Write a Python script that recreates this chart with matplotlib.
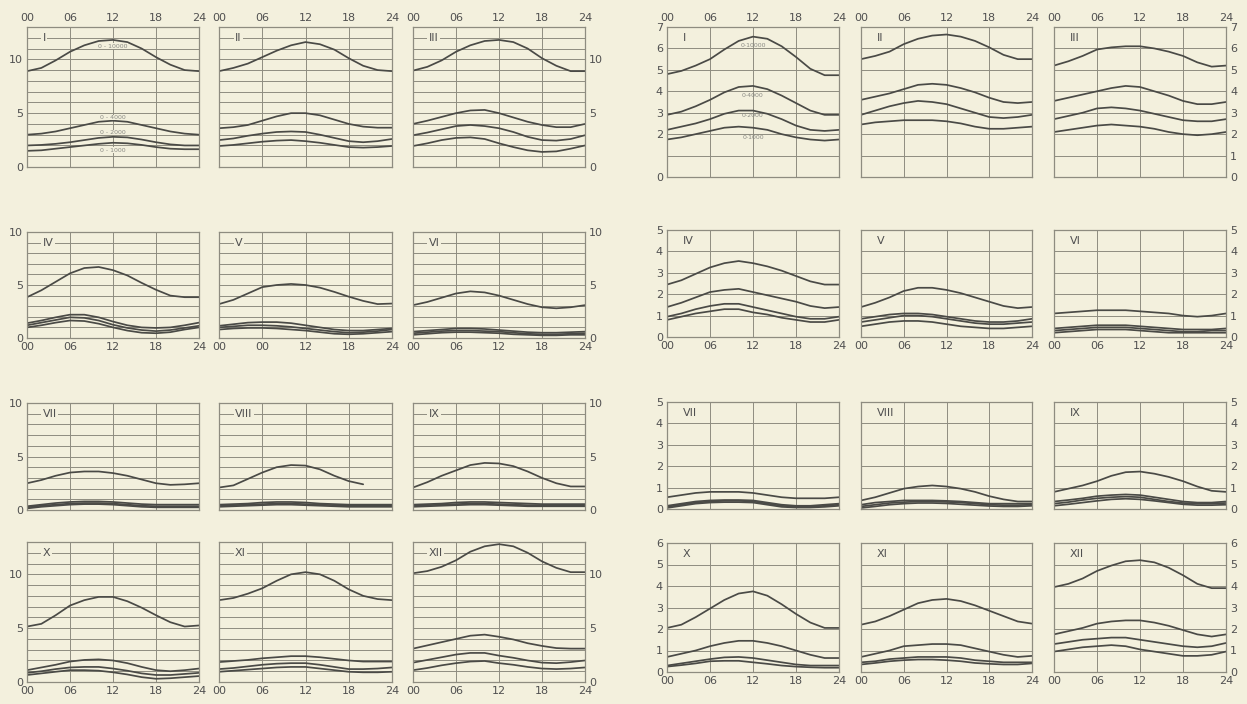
import matplotlib
matplotlib.use("Agg")
import matplotlib.pyplot as plt
import numpy as np

# ---------------- data ----------------
hours = [0, 2, 4, 6, 8, 10, 12, 14, 16, 18, 20, 22, 24]
hour_ticks = [0, 6, 12, 18, 24]
hour_labels = ["00", "06", "12", "18", "24"]
hour_labels_V = ["00", "00", "12", "18", "24"]   # as printed in panel V (left)
months = ["I", "II", "III", "IV", "V", "VI", "VII", "VIII", "IX", "X", "XI", "XII"]
layer_names = ["0 - 10000", "0 - 4000", "0 - 2000", "0 - 1000"]
nan = float("nan")

# Left group (series: 0-10000, 0-4000, 0-2000, 0-1000)
L_I = [[8.9, 9.2, 9.9, 10.7, 11.3, 11.7, 11.8, 11.6, 11.0, 10.2, 9.5, 9.0, 8.9],
       [3.0, 3.1, 3.3, 3.6, 3.9, 4.2, 4.3, 4.2, 3.9, 3.6, 3.3, 3.1, 3.0],
       [2.0, 2.05, 2.15, 2.3, 2.5, 2.7, 2.8, 2.75, 2.55, 2.3, 2.1, 2.0, 2.0],
       [1.5, 1.55, 1.7, 1.85, 2.0, 2.15, 2.25, 2.2, 2.05, 1.85, 1.7, 1.65, 1.65]]
L_II = [[8.9, 9.2, 9.6, 10.2, 10.8, 11.3, 11.6, 11.4, 10.9, 10.1, 9.4, 9.0, 8.9],
        [3.6, 3.7, 3.9, 4.3, 4.7, 5.0, 5.0, 4.8, 4.4, 4.0, 3.75, 3.65, 3.65],
        [2.5, 2.65, 2.9, 3.1, 3.25, 3.3, 3.25, 3.0, 2.7, 2.4, 2.3, 2.4, 2.6],
        [1.95, 2.05, 2.2, 2.35, 2.45, 2.5, 2.4, 2.25, 2.05, 1.85, 1.8, 1.85, 1.95]]
L_III = [[8.95, 9.3, 9.9, 10.7, 11.3, 11.7, 11.8, 11.6, 11.0, 10.1, 9.4, 8.9, 8.9],
         [4.0, 4.3, 4.65, 5.0, 5.25, 5.3, 5.0, 4.6, 4.2, 3.9, 3.7, 3.7, 4.0],
         [2.95, 3.2, 3.5, 3.8, 3.9, 3.8, 3.6, 3.25, 2.8, 2.5, 2.45, 2.6, 2.95],
         [1.95, 2.2, 2.5, 2.7, 2.75, 2.6, 2.2, 1.85, 1.55, 1.4, 1.45, 1.7, 2.0]]
L_IV = [[3.85, 4.5, 5.3, 6.1, 6.6, 6.7, 6.4, 5.9, 5.2, 4.55, 4.0, 3.85, 3.85],
        [1.4, 1.65, 1.95, 2.2, 2.2, 1.95, 1.55, 1.2, 1.0, 0.95, 1.0, 1.2, 1.45],
        [1.2, 1.45, 1.7, 1.95, 1.9, 1.65, 1.25, 0.95, 0.75, 0.65, 0.75, 0.95, 1.15],
        [1.0, 1.2, 1.45, 1.65, 1.6, 1.35, 1.0, 0.7, 0.5, 0.45, 0.55, 0.8, 1.0]]
L_V = [[3.2, 3.6, 4.2, 4.8, 5.0, 5.1, 5.0, 4.75, 4.35, 3.9, 3.5, 3.2, 3.25],
       [1.15, 1.3, 1.45, 1.5, 1.5, 1.4, 1.2, 1.0, 0.8, 0.7, 0.7, 0.8, 0.9],
       [1.0, 1.1, 1.2, 1.2, 1.15, 1.05, 0.9, 0.75, 0.6, 0.5, 0.55, 0.65, 0.8],
       [0.8, 0.9, 0.95, 0.95, 0.9, 0.8, 0.7, 0.55, 0.4, 0.35, 0.4, 0.5, 0.6]]
L_VI = [[3.1, 3.4, 3.8, 4.2, 4.4, 4.3, 4.0, 3.6, 3.2, 2.9, 2.8, 2.9, 3.1],
        [0.6, 0.7, 0.8, 0.9, 0.9, 0.85, 0.75, 0.65, 0.55, 0.5, 0.5, 0.55, 0.6],
        [0.45, 0.55, 0.65, 0.7, 0.7, 0.65, 0.6, 0.5, 0.4, 0.35, 0.35, 0.4, 0.45],
        [0.3, 0.4, 0.5, 0.55, 0.55, 0.5, 0.45, 0.35, 0.3, 0.25, 0.25, 0.3, 0.3]]
L_VII = [[2.5, 2.8, 3.2, 3.5, 3.6, 3.6, 3.45, 3.2, 2.85, 2.5, 2.35, 2.4, 2.5],
         [0.35, 0.5, 0.65, 0.75, 0.8, 0.8, 0.75, 0.65, 0.55, 0.5, 0.5, 0.5, 0.5],
         [0.25, 0.4, 0.5, 0.6, 0.65, 0.65, 0.6, 0.5, 0.4, 0.35, 0.35, 0.35, 0.35],
         [0.15, 0.3, 0.4, 0.5, 0.55, 0.55, 0.5, 0.4, 0.3, 0.25, 0.25, 0.25, 0.25]]
L_VIII = [[2.1, 2.3, 2.9, 3.5, 4.0, 4.2, 4.15, 3.8, 3.2, 2.7, 2.4, nan, nan],
          [0.5, 0.55, 0.6, 0.7, 0.75, 0.75, 0.7, 0.6, 0.55, 0.5, 0.5, 0.5, 0.5],
          [0.4, 0.45, 0.5, 0.55, 0.6, 0.6, 0.55, 0.5, 0.45, 0.4, 0.4, 0.4, 0.4],
          [0.3, 0.35, 0.4, 0.45, 0.5, 0.5, 0.45, 0.4, 0.35, 0.3, 0.3, 0.3, 0.3]]
L_IX = [[2.1, 2.6, 3.2, 3.7, 4.2, 4.4, 4.35, 4.1, 3.6, 3.0, 2.5, 2.2, 2.2],
        [0.5, 0.55, 0.6, 0.7, 0.75, 0.75, 0.7, 0.65, 0.6, 0.55, 0.55, 0.55, 0.55],
        [0.4, 0.45, 0.5, 0.55, 0.6, 0.6, 0.55, 0.5, 0.45, 0.45, 0.45, 0.45, 0.45],
        [0.3, 0.35, 0.4, 0.45, 0.5, 0.5, 0.45, 0.4, 0.35, 0.35, 0.35, 0.35, 0.35]]
L_X = [[5.15, 5.4, 6.2, 7.1, 7.6, 7.9, 7.9, 7.5, 6.9, 6.2, 5.55, 5.15, 5.25],
       [1.1, 1.35, 1.6, 1.9, 2.05, 2.1, 2.0, 1.75, 1.4, 1.1, 1.0, 1.1, 1.25],
       [0.85, 1.0, 1.2, 1.35, 1.4, 1.4, 1.25, 1.05, 0.8, 0.65, 0.65, 0.75, 0.85],
       [0.65, 0.8, 0.95, 1.1, 1.1, 1.05, 0.9, 0.7, 0.45, 0.3, 0.35, 0.45, 0.55]]
L_XI = [[7.6, 7.8, 8.2, 8.7, 9.4, 10.0, 10.2, 10.0, 9.4, 8.6, 8.0, 7.7, 7.6],
        [1.85, 1.95, 2.05, 2.2, 2.3, 2.4, 2.4, 2.3, 2.15, 2.0, 1.9, 1.9, 1.9],
        [1.2, 1.3, 1.45, 1.6, 1.7, 1.75, 1.75, 1.6, 1.4, 1.2, 1.2, 1.25, 1.35],
        [0.95, 1.05, 1.15, 1.25, 1.35, 1.4, 1.4, 1.25, 1.1, 0.95, 0.9, 0.9, 0.95]]
L_XII = [[10.1, 10.3, 10.7, 11.3, 12.1, 12.6, 12.8, 12.6, 12.0, 11.2, 10.6, 10.2, 10.2],
         [3.1, 3.4, 3.7, 4.0, 4.3, 4.4, 4.2, 3.95, 3.6, 3.35, 3.15, 3.1, 3.1],
         [1.8, 2.05, 2.3, 2.55, 2.7, 2.7, 2.45, 2.25, 2.0, 1.8, 1.75, 1.85, 2.0],
         [1.1, 1.3, 1.55, 1.75, 1.9, 1.95, 1.75, 1.6, 1.4, 1.25, 1.2, 1.25, 1.35]]

# Right group
R_I = [[4.8, 4.95, 5.2, 5.5, 5.95, 6.35, 6.55, 6.45, 6.1, 5.6, 5.05, 4.75, 4.75],
       [2.9, 3.05, 3.3, 3.6, 3.95, 4.2, 4.25, 4.1, 3.8, 3.45, 3.1, 2.9, 2.9],
       [2.2, 2.35, 2.5, 2.7, 2.95, 3.1, 3.1, 2.95, 2.7, 2.4, 2.2, 2.15, 2.2],
       [1.75, 1.85, 2.0, 2.15, 2.3, 2.35, 2.3, 2.2, 2.0, 1.85, 1.75, 1.7, 1.75]]
R_II = [[5.5, 5.65, 5.85, 6.2, 6.45, 6.6, 6.65, 6.55, 6.35, 6.05, 5.7, 5.5, 5.5],
        [3.6, 3.75, 3.9, 4.1, 4.3, 4.35, 4.3, 4.15, 3.95, 3.7, 3.5, 3.45, 3.5],
        [2.9, 3.1, 3.3, 3.45, 3.55, 3.5, 3.4, 3.2, 3.0, 2.8, 2.75, 2.8, 2.9],
        [2.45, 2.55, 2.6, 2.65, 2.65, 2.65, 2.6, 2.5, 2.35, 2.25, 2.25, 2.3, 2.35]]
R_III = [[5.2, 5.4, 5.65, 5.95, 6.05, 6.1, 6.1, 6.0, 5.85, 5.65, 5.35, 5.15, 5.2],
         [3.55, 3.7, 3.85, 4.0, 4.15, 4.25, 4.2, 4.0, 3.8, 3.55, 3.4, 3.4, 3.5],
         [2.7, 2.85, 3.0, 3.2, 3.25, 3.2, 3.1, 2.95, 2.8, 2.65, 2.6, 2.6, 2.7],
         [2.1, 2.2, 2.3, 2.4, 2.45, 2.4, 2.35, 2.25, 2.1, 2.0, 1.95, 2.0, 2.1]]
R_IV = [[2.45, 2.65, 2.95, 3.25, 3.45, 3.55, 3.45, 3.3, 3.1, 2.85, 2.6, 2.45, 2.45],
        [1.4, 1.6, 1.85, 2.1, 2.2, 2.25, 2.1, 1.95, 1.8, 1.65, 1.45, 1.35, 1.4],
        [0.95, 1.1, 1.3, 1.45, 1.55, 1.55, 1.4, 1.25, 1.1, 0.95, 0.85, 0.85, 0.95],
        [0.8, 0.95, 1.1, 1.2, 1.3, 1.3, 1.15, 1.05, 0.9, 0.8, 0.7, 0.7, 0.8]]
R_V = [[1.4, 1.6, 1.85, 2.15, 2.3, 2.3, 2.2, 2.05, 1.85, 1.65, 1.45, 1.35, 1.4],
       [0.85, 0.95, 1.05, 1.1, 1.1, 1.05, 0.95, 0.85, 0.75, 0.7, 0.7, 0.75, 0.85],
       [0.7, 0.8, 0.9, 1.0, 1.0, 0.95, 0.85, 0.75, 0.65, 0.6, 0.6, 0.65, 0.7],
       [0.5, 0.6, 0.7, 0.75, 0.75, 0.7, 0.6, 0.5, 0.45, 0.4, 0.4, 0.45, 0.5]]
R_VI = [[1.1, 1.15, 1.2, 1.25, 1.25, 1.25, 1.2, 1.15, 1.1, 1.0, 0.95, 1.0, 1.1],
        [0.4, 0.45, 0.5, 0.55, 0.55, 0.55, 0.5, 0.45, 0.4, 0.35, 0.35, 0.35, 0.4],
        [0.3, 0.35, 0.4, 0.45, 0.45, 0.45, 0.4, 0.35, 0.3, 0.25, 0.25, 0.3, 0.3],
        [0.2, 0.25, 0.3, 0.35, 0.35, 0.35, 0.3, 0.25, 0.2, 0.2, 0.2, 0.2, 0.2]]
R_VII = [[0.55, 0.65, 0.75, 0.8, 0.8, 0.8, 0.75, 0.65, 0.55, 0.5, 0.5, 0.5, 0.55],
         [0.15, 0.25, 0.35, 0.4, 0.42, 0.42, 0.4, 0.3, 0.2, 0.15, 0.15, 0.2, 0.25],
         [0.1, 0.2, 0.3, 0.35, 0.38, 0.38, 0.35, 0.25, 0.15, 0.1, 0.1, 0.15, 0.2],
         [0.05, 0.15, 0.25, 0.3, 0.32, 0.32, 0.3, 0.2, 0.1, 0.07, 0.07, 0.1, 0.15]]
R_VIII = [[0.4, 0.55, 0.75, 0.95, 1.05, 1.1, 1.05, 0.95, 0.8, 0.6, 0.45, 0.35, 0.35],
          [0.2, 0.3, 0.35, 0.4, 0.4, 0.4, 0.38, 0.35, 0.3, 0.25, 0.25, 0.25, 0.25],
          [0.12, 0.2, 0.28, 0.32, 0.35, 0.35, 0.33, 0.3, 0.25, 0.2, 0.18, 0.18, 0.2],
          [0.05, 0.12, 0.2, 0.25, 0.28, 0.28, 0.26, 0.22, 0.18, 0.14, 0.12, 0.12, 0.15]]
R_IX = [[0.8, 0.95, 1.1, 1.3, 1.55, 1.72, 1.75, 1.65, 1.5, 1.3, 1.05, 0.85, 0.8],
        [0.35, 0.42, 0.5, 0.6, 0.65, 0.68, 0.65, 0.55, 0.45, 0.35, 0.3, 0.3, 0.35],
        [0.25, 0.32, 0.42, 0.5, 0.55, 0.58, 0.55, 0.45, 0.35, 0.28, 0.25, 0.25, 0.28],
        [0.15, 0.22, 0.3, 0.38, 0.45, 0.48, 0.45, 0.38, 0.3, 0.22, 0.18, 0.18, 0.2]]
R_X = [[2.05, 2.2, 2.55, 2.95, 3.35, 3.65, 3.75, 3.55, 3.15, 2.7, 2.3, 2.05, 2.05],
       [0.7, 0.85, 1.0, 1.2, 1.35, 1.45, 1.45, 1.35, 1.2, 1.0, 0.8, 0.65, 0.65],
       [0.3, 0.4, 0.5, 0.6, 0.68, 0.7, 0.65, 0.55, 0.45, 0.35, 0.3, 0.3, 0.3],
       [0.25, 0.32, 0.4, 0.5, 0.52, 0.52, 0.45, 0.38, 0.3, 0.25, 0.22, 0.2, 0.2]]
R_XI = [[2.2, 2.35, 2.6, 2.9, 3.2, 3.35, 3.4, 3.3, 3.1, 2.85, 2.6, 2.35, 2.25],
        [0.7, 0.85, 1.0, 1.2, 1.25, 1.3, 1.3, 1.25, 1.1, 0.95, 0.8, 0.7, 0.75],
        [0.45, 0.5, 0.6, 0.65, 0.7, 0.7, 0.7, 0.65, 0.55, 0.5, 0.45, 0.45, 0.45],
        [0.35, 0.42, 0.5, 0.55, 0.58, 0.58, 0.55, 0.5, 0.42, 0.38, 0.35, 0.35, 0.4]]
R_XII = [[3.95, 4.1, 4.35, 4.7, 4.95, 5.15, 5.2, 5.1, 4.85, 4.5, 4.1, 3.9, 3.9],
         [1.75, 1.9, 2.05, 2.25, 2.35, 2.4, 2.4, 2.3, 2.15, 1.95, 1.75, 1.65, 1.75],
         [1.3, 1.4, 1.5, 1.55, 1.6, 1.6, 1.5, 1.4, 1.3, 1.2, 1.15, 1.2, 1.35],
         [0.95, 1.05, 1.15, 1.2, 1.25, 1.2, 1.05, 0.95, 0.85, 0.75, 0.75, 0.8, 0.95]]

left_panels = [L_I, L_II, L_III, L_IV, L_V, L_VI, L_VII, L_VIII, L_IX, L_X, L_XI, L_XII]
right_panels = [R_I, R_II, R_III, R_IV, R_V, R_VI, R_VII, R_VIII, R_IX, R_X, R_XI, R_XII]

left_ymax = [13, 10, 10, 13]
right_ymax = [7, 5, 5, 6]

# ---------------- layout / style ----------------
W, H = 1247, 704
BG = "#f3f0dd"
LINE = "#4a4a46"
GRID = "#8e8c80"
TXT = "#505050"

left_cols = [(27, 199), (219, 392), (413, 585)]
right_cols = [(667, 839), (861, 1032), (1054, 1226)]
left_rows = [(27, 167), (232, 338), (403, 510), (542, 682)]
right_rows = [(27, 177), (230, 337), (402, 509), (543, 672)]

plt.rcParams["font.family"] = ["DejaVu Sans"]
fig = plt.figure(figsize=(W / 100, H / 100), dpi=100)
fig.patch.set_facecolor(BG)


def make_panel(x0, x1, y0, y1, series, ymax, month, row, col, group):
    ax = fig.add_axes([x0 / W, 1 - y1 / H, (x1 - x0) / W, (y1 - y0) / H])
    ax.set_facecolor(BG)
    ax.set_xlim(0, 24)
    ax.set_ylim(0, ymax)
    for s in ax.spines.values():
        s.set_color(GRID)
        s.set_linewidth(0.9)
    yt = list(range(0, ymax + 1))
    ax.set_xticks(hour_ticks)
    ax.set_yticks(yt)
    ax.grid(True, color=GRID, linewidth=0.7)
    ax.set_axisbelow(True)
    ax.tick_params(length=0, labelsize=8, labelcolor=TXT, pad=3)

    # y labels
    if group == "L":
        ylabels = [str(v) if v % 5 == 0 else "" for v in yt]
    else:
        ylabels = [str(v) for v in yt]
    ax.set_yticklabels(ylabels)
    if col == 0:
        ax.tick_params(axis="y", labelleft=True, labelright=False)
        if group == "R" and row == 0:
            ax.set_yticklabels([("" if v == 1 else str(v)) for v in yt])
    elif col == 2:
        ax.tick_params(axis="y", labelleft=False, labelright=True)
    else:
        ax.tick_params(axis="y", labelleft=False, labelright=False)

    # x labels
    xl = hour_labels_V if (group == "L" and month == "V") else hour_labels
    ax.set_xticklabels(xl)
    if row == 0:
        ax.tick_params(axis="x", labeltop=True, labelbottom=False)
    elif row == 2:
        ax.tick_params(axis="x", labeltop=False, labelbottom=False)
    else:
        ax.tick_params(axis="x", labeltop=False, labelbottom=True)

    for s in series:
        ax.plot(hours, s, color=LINE, linewidth=1.25, solid_capstyle="round")

    if group == "L":
        ax.text(2.2, ymax - 1, month, fontsize=8, color=TXT, ha="left", va="center",
                bbox=dict(facecolor=BG, edgecolor="none", pad=1.0), zorder=5)
    else:
        ax.text(2.2, ymax - 0.5, month, fontsize=8, color=TXT, ha="left", va="center", zorder=5)
    return ax


for i in range(12):
    r, c = divmod(i, 3)
    lx0, lx1 = left_cols[c]
    ly0, ly1 = left_rows[r]
    axl = make_panel(lx0, lx1, ly0, ly1, left_panels[i], left_ymax[r], months[i], r, c, "L")
    rx0, rx1 = right_cols[c]
    ry0, ry1 = right_rows[r]
    axr = make_panel(rx0, rx1, ry0, ry1, right_panels[i], right_ymax[r], months[i], r, c, "R")
    if i == 0:
        for name, yv in zip(layer_names, [11.2, 4.6, 3.2, 1.55]):
            axl.text(12, yv, name, fontsize=4.5, color="#8a8a84", ha="center", va="center",
                     bbox=dict(facecolor=BG, edgecolor="none", pad=0.3), zorder=4)
        for name, yv in zip(layer_names, [6.15, 3.8, 2.85, 1.85]):
            axr.text(12, yv, name.replace(" ", ""), fontsize=4.5, color="#8a8a84",
                     ha="center", va="center", zorder=4)

fig.savefig("out.png", dpi=100, facecolor=BG)
